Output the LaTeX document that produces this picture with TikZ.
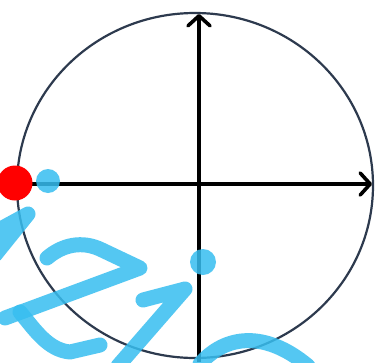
\documentclass[tikz,border=0pt]{standalone}
\usetikzlibrary{arrows.meta}
\definecolor{rim}{RGB}{45,58,78}
\definecolor{wm}{RGB}{55,190,240}
\begin{document}
\begin{tikzpicture}[x=1pt,y=-1pt,
  axis/.style={line width=4.2pt,-{Straight Barb[length=10pt,width=22pt,line width=3.6pt,round]}},
  wmstroke/.style={wm,line width=15pt,line cap=round,line join=round,opacity=0.85},
  dot/.style={circle,inner sep=0pt,draw=none}]
\useasboundingbox (0,0) rectangle (375,362);
\fill[white] (0,0) rectangle (375,362);
\draw[rim,line width=2.2pt] (195,185.5) ellipse [x radius=178, y radius=172.5];
\coordinate (xs) at (30,184);
\coordinate (xe) at (372,184);
\coordinate (ys) at (199,362);
\coordinate (ye) at (199,14);
\draw[axis] (xs) -- (xe);
\draw[axis] (ys) -- (ye);
\node[dot,fill=red,minimum size=35pt] (P) at (15,183) {};
% watermark
\draw[wmstroke] (-5,232) -- (28,214) -- (-5,255);
\draw[wmstroke] (47,258) .. controls (62,245) and (82,240) .. (102,250) -- (140,268) -- (5,318);
\draw[wmstroke] (20,312) .. controls (35,330) and (48,350) .. (70,352) -- (100,345);
\draw[wmstroke] (143,300) -- (185,289) -- (118,366);
\draw[wmstroke] (200,364) .. controls (225,335) and (265,330) .. (308,366);
\node[dot,fill=wm,opacity=0.85,minimum size=24pt] (b1) at (48,181) {};
\node[dot,fill=wm,opacity=0.85,minimum size=26pt] (b2) at (203,262) {};
\end{tikzpicture}
\end{document}
